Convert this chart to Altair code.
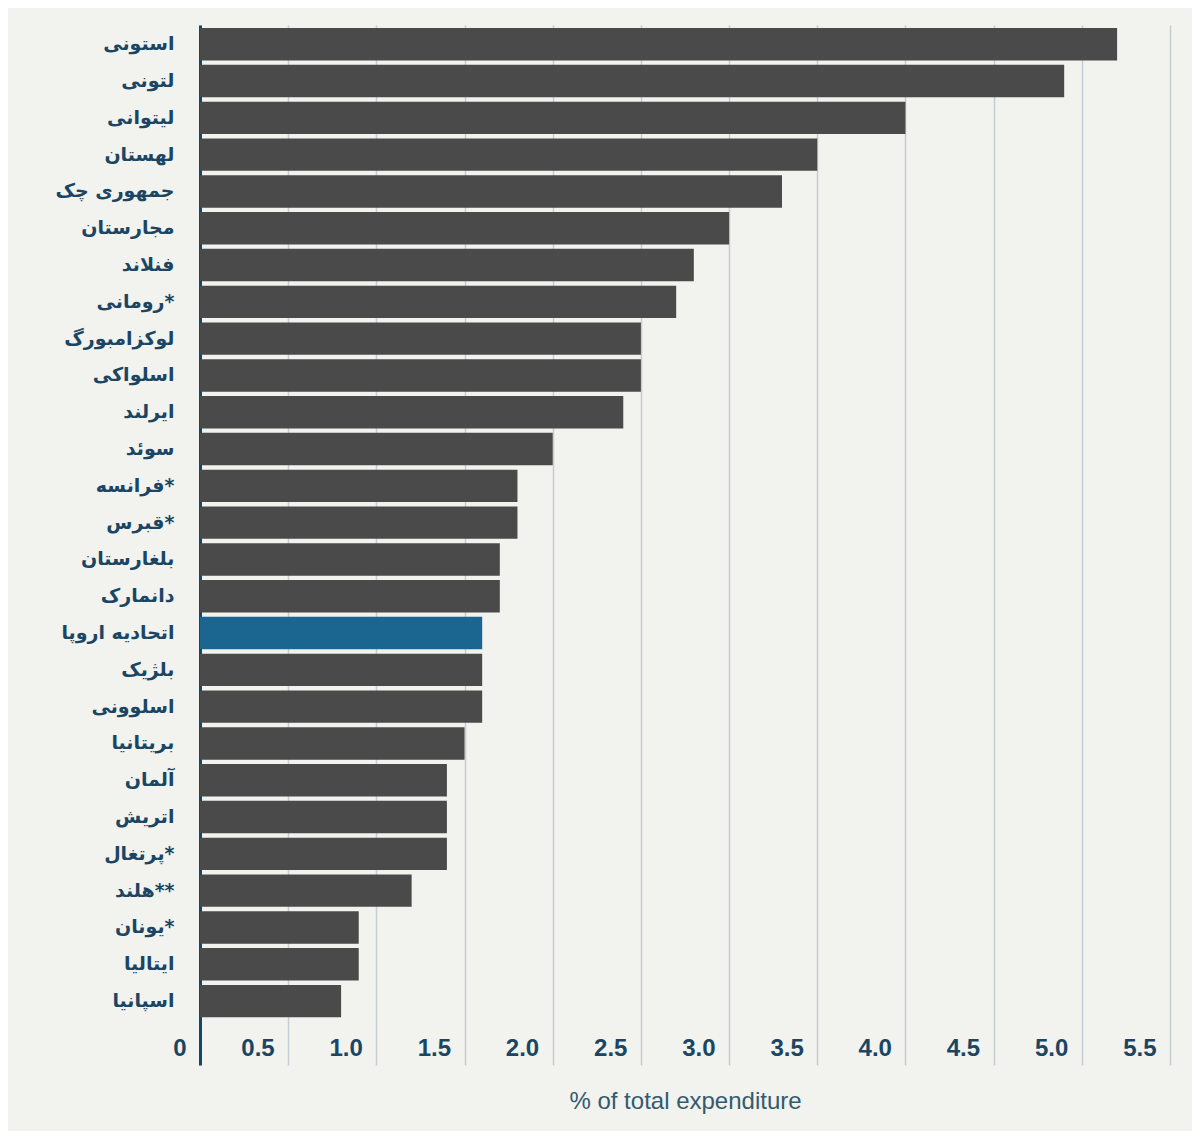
import altair as alt
import pandas as pd

countries = [
    "استونی", "لتونی", "لیتوانی", "لهستان", "جمهوری چک", "مجارستان", "فنلاند",
    "رومانی*", "لوکزامبورگ", "اسلواکی", "ایرلند", "سوئد", "فرانسه*", "قبرس*",
    "بلغارستان", "دانمارک", "اتحادیه اروپا", "بلژیک", "اسلوونی", "بریتانیا",
    "آلمان", "اتریش", "پرتغال*", "هلند**", "یونان*", "ایتالیا", "اسپانیا",
]
values = [
    5.2, 4.9, 4.0, 3.5, 3.3, 3.0, 2.8,
    2.7, 2.5, 2.5, 2.4, 2.0, 1.8, 1.8,
    1.7, 1.7, 1.6, 1.6, 1.6, 1.5,
    1.4, 1.4, 1.4, 1.2, 0.9, 0.9, 0.8,
]
highlight = "اتحادیه اروپا"
x_ticks = [0, 0.5, 1.0, 1.5, 2.0, 2.5, 3.0, 3.5, 4.0, 4.5, 5.0, 5.5]

df = pd.DataFrame({"country": countries, "value": values})

label_blue = "#1a4664"

# leftover band space goes mostly below the bars, where the x labels sit
bars = alt.Chart(df).mark_bar().encode(
    x=alt.X(
        "value:Q",
        scale=alt.Scale(domain=[0, 5.5], nice=False),
        axis=alt.Axis(
            values=x_ticks,
            labelExpr="datum.value == 0 ? '0' : format(datum.value, '.1f')",
            grid=True,
            gridColor="#c5ccd3",
            gridWidth=1.5,
            domain=False,
            ticks=False,
            labelAlign="right",
            labelOffset=-14,
            labelBaseline="bottom",
            labelPadding=-5,
            labelFont="Liberation Sans",
            labelFontWeight="bold",
            labelFontSize=24,
            labelColor=label_blue,
            title="% of total expenditure",
            titleFont="Liberation Sans",
            titleFontWeight="normal",
            titleFontSize=24,
            titleColor="#335a6e",
            titleY=36,
            titleBaseline="middle",
        ),
    ),
    y=alt.Y(
        "country:N",
        sort=countries,
        scale=alt.Scale(paddingInner=0.12, paddingOuter=0.69, align=0.06),
        axis=alt.Axis(
            title=None,
            ticks=False,
            grid=False,
            domainColor="#0f4a6c",
            domainWidth=3,
            labelPadding=26,
            labelFont="DejaVu Sans",
            labelFontWeight="bold",
            labelFontSize=19,
            labelColor=label_blue,
        ),
    ),
    color=alt.condition(
        alt.datum.country == highlight,
        alt.value("#1a6690"),
        alt.value("#4a4a4a"),
    ),
).properties(
    width=970,
    height=1040,
    background="#f2f2ee",
    autosize=alt.AutoSizeParams(type="none"),
    padding={"left": 192, "top": 17, "right": 22, "bottom": 66},
).configure_view(stroke=None)

chart = bars
chart.save("out.html", embed_options={"renderer": "svg", "actions": False})
